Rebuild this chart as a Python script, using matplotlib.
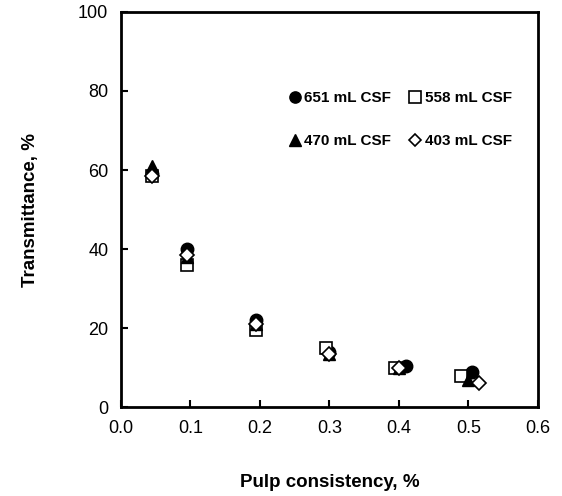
import matplotlib
matplotlib.use("Agg")
import matplotlib.pyplot as plt

plt.rcParams['font.family'] = ['Liberation Sans', 'DejaVu Sans']

# pulp consistency (%) and transmittance (%) per freeness level
x_651 = [0.045, 0.095, 0.195, 0.30, 0.41, 0.505]
y_651 = [59.0, 40.0, 22.0, 14.0, 10.5, 9.0]
x_558 = [0.045, 0.095, 0.195, 0.295, 0.395, 0.49]
y_558 = [58.5, 36.0, 19.5, 15.0, 10.0, 8.0]
x_470 = [0.045, 0.095, 0.195, 0.30, 0.40, 0.50]
y_470 = [61.0, 38.0, 21.0, 13.5, 10.0, 7.0]
x_403 = [0.045, 0.095, 0.195, 0.30, 0.40, 0.515]
y_403 = [58.5, 38.5, 21.0, 13.5, 10.0, 6.0]

fig = plt.figure(figsize=(5.62, 4.96), dpi=100)
ax = fig.add_axes([0.215, 0.179, 0.742, 0.797])

ms = 9
h651, = ax.plot(x_651, y_651, 'o', color='black', ms=ms, label='651 mL CSF')
h558, = ax.plot(x_558, y_558, 's', mfc='white', mec='black', mew=1.2, ms=ms, label='558 mL CSF')
h470, = ax.plot(x_470, y_470, '^', color='black', ms=ms, label='470 mL CSF')
h403, = ax.plot(x_403, y_403, 'D', mfc='white', mec='black', mew=1.2, ms=7, label='403 mL CSF')

ax.set_xlim(0, 0.6)
ax.set_ylim(0, 100)
ax.set_xticks([0.0, 0.1, 0.2, 0.3, 0.4, 0.5, 0.6])
ax.set_xticklabels(['0.0', '0.1', '0.2', '0.3', '0.4', '0.5', '0.6'])
ax.set_yticks([0, 20, 40, 60, 80, 100])
ax.tick_params(direction='in', length=5, width=1.5, labelsize=13, pad=9)
for s in ax.spines.values():
    s.set_linewidth(2)

ax.set_xlabel('Pulp consistency, %', fontsize=13.5, fontweight='bold', labelpad=27)
ax.set_ylabel('Transmittance, %', fontsize=13.5, fontweight='bold', labelpad=28)

leg = ax.legend([h651, h470, h558, h403],
                ['651 mL CSF', '470 mL CSF', '558 mL CSF', '403 mL CSF'],
                ncol=2, loc='upper right', bbox_to_anchor=(0.97, 0.835), frameon=False,
                fontsize=11, handletextpad=0.1, columnspacing=1.1,
                labelspacing=1.9, handlelength=1.0, markerscale=0.9)
for t in leg.get_texts():
    t.set_fontweight('bold')

fig.savefig('out.png', dpi=100)
